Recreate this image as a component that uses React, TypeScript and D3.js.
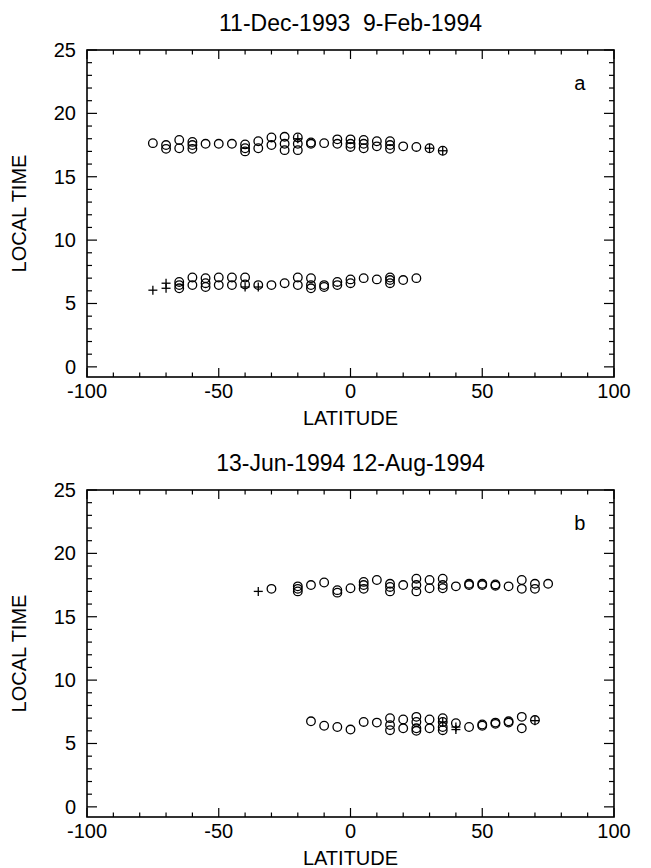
import React from "react";
import * as d3 from "d3";

// ---------- data ----------
const xTicks = [-100, -50, 0, 50, 100];
const yTicks = [0, 5, 10, 15, 20, 25];
const titles = ["11-Dec-1993  9-Feb-1994", "13-Jun-1994 12-Aug-1994"];
const panelLetters = ["a", "b"];
const xLabel = "LATITUDE";
const yLabel = "LOCAL TIME";

// Panel a (Dec-Feb): [latitude, local time]
const decDuskCircles: [number, number][] = [
  [-75, 17.65],
  [-70, 17.5], [-70, 17.2],
  [-65, 17.9], [-65, 17.25],
  [-60, 17.75], [-60, 17.5], [-60, 17.2],
  [-55, 17.6], [-50, 17.6], [-45, 17.6],
  [-40, 17.55], [-40, 17.25], [-40, 17.0],
  [-35, 17.8], [-35, 17.25],
  [-30, 18.1], [-30, 17.5],
  [-25, 18.15], [-25, 17.6], [-25, 17.1],
  [-20, 18.1], [-20, 17.6], [-20, 17.1],
  [-15, 17.7], [-15, 17.6],
  [-10, 17.65],
  [-5, 17.95], [-5, 17.6],
  [0, 17.95], [0, 17.6], [0, 17.35],
  [5, 17.9], [5, 17.6], [5, 17.25],
  [10, 17.8], [10, 17.4],
  [15, 17.8], [15, 17.5], [15, 17.2],
  [20, 17.4], [25, 17.35], [30, 17.25], [35, 17.05],
];
const decDawnCircles: [number, number][] = [
  [-65, 6.7], [-65, 6.45], [-65, 6.2],
  [-60, 7.05], [-60, 6.45],
  [-55, 7.0], [-55, 6.6], [-55, 6.3],
  [-50, 7.05], [-50, 6.45],
  [-45, 7.05], [-45, 6.45],
  [-40, 7.05], [-40, 6.5],
  [-35, 6.45], [-30, 6.45], [-25, 6.6],
  [-20, 7.05], [-20, 6.45],
  [-15, 7.0], [-15, 6.45], [-15, 6.2],
  [-10, 6.45], [-10, 6.3],
  [-5, 6.7], [-5, 6.45],
  [0, 6.9], [0, 6.6],
  [5, 7.0], [10, 6.9],
  [15, 7.05], [15, 6.85], [15, 6.6],
  [20, 6.85], [25, 7.0],
];
const decPluses: [number, number][] = [
  [-75, 6.05], [-70, 6.6], [-70, 6.2], [-40, 6.3], [-35, 6.3],
  [-20, 18.0], [30, 17.25], [35, 17.05],
];

// Panel b (Jun-Aug)
const junDuskCircles: [number, number][] = [
  [-30, 17.2],
  [-20, 17.4], [-20, 17.2], [-20, 17.0],
  [-15, 17.5], [-10, 17.7],
  [-5, 17.1], [-5, 16.9],
  [0, 17.25],
  [5, 17.75], [5, 17.5], [5, 17.2],
  [10, 17.9],
  [15, 17.6], [15, 17.35], [15, 17.0],
  [20, 17.5],
  [25, 18.0], [25, 17.5], [25, 17.0],
  [30, 17.9], [30, 17.25],
  [35, 18.0], [35, 17.5], [35, 17.25],
  [40, 17.4],
  [45, 17.6], [45, 17.5],
  [50, 17.6], [50, 17.5],
  [55, 17.55], [55, 17.45],
  [60, 17.4],
  [65, 17.9], [65, 17.2],
  [70, 17.6], [70, 17.2],
  [75, 17.6],
];
const junDawnCircles: [number, number][] = [
  [-15, 6.75], [-10, 6.4], [-5, 6.3], [0, 6.1],
  [5, 6.7], [10, 6.65],
  [15, 7.0], [15, 6.45], [15, 6.05],
  [20, 6.9], [20, 6.2],
  [25, 7.1], [25, 6.7], [25, 6.2], [25, 6.0],
  [30, 6.9], [30, 6.2],
  [35, 7.0], [35, 6.7], [35, 6.3], [35, 6.05],
  [40, 6.6],
  [45, 6.3], [50, 6.5], [50, 6.4],
  [55, 6.65], [55, 6.55],
  [60, 6.75], [60, 6.65],
  [65, 7.1], [65, 6.2],
  [70, 6.85],
];
const junPluses: [number, number][] = [
  [-35, 17.0], [35, 6.7], [40, 6.3], [40, 6.1], [70, 6.8],
];

const panels = [
  { circles: [...decDuskCircles, ...decDawnCircles], pluses: decPluses },
  { circles: [...junDuskCircles, ...junDawnCircles], pluses: junPluses },
];

// ---------- layout ----------
const W = 651;
const H = 868;
const left = 87;
const right = 614;
const panelTop = 50;
const panelBottom = 377;
const panelDy = 440;
const FONT = "'Liberation Sans', Arial, Helvetica, sans-serif";

function Panel({ idx }: { idx: number }) {
  const dy = idx * panelDy;
  const x = d3.scaleLinear().domain([-100, 100]).range([left, right]);
  const y = d3.scaleLinear().domain([-0.8, 25]).range([panelBottom + dy, panelTop + dy]);
  const top = panelTop + dy;
  const bottom = panelBottom + dy;
  const xMinor = d3.range(-100, 101, 10);
  const yMinor = d3.range(0, 26, 1);
  const p = panels[idx];
  const sw = 1.3;
  return (
    <g>
      <text
        x={(left + right) / 2}
        y={top - 19}
        fontSize={23}
        textAnchor="middle"
        fontFamily={FONT}
        style={{ whiteSpace: "pre" }}
      >
        {titles[idx]}
      </text>
      {xMinor.map((v) => {
        const major = v % 50 === 0;
        const len = major ? 9 : 4.5;
        return (
          <g key={"xt" + v}>
            <line x1={x(v)} x2={x(v)} y1={bottom} y2={bottom - len} stroke="#000" strokeWidth={1.2} />
            <line x1={x(v)} x2={x(v)} y1={top} y2={top + len} stroke="#000" strokeWidth={1.2} />
          </g>
        );
      })}
      {yMinor.map((v) => {
        const major = v % 5 === 0;
        const len = major ? 10 : 5;
        return (
          <g key={"yt" + v}>
            <line x1={left} x2={left + len} y1={y(v)} y2={y(v)} stroke="#000" strokeWidth={1.2} />
            <line x1={right} x2={right - len} y1={y(v)} y2={y(v)} stroke="#000" strokeWidth={1.2} />
          </g>
        );
      })}
      <rect x={left} y={top} width={right - left} height={bottom - top} fill="none" stroke="#000" strokeWidth={1.6} />
      {xTicks.map((v) => (
        <text key={"xl" + v} x={x(v)} y={bottom + 21} fontSize={20} textAnchor="middle" fontFamily={FONT}>
          {v}
        </text>
      ))}
      {yTicks.map((v) => (
        <text key={"yl" + v} x={left - 11} y={y(v) + 7} fontSize={20} textAnchor="end" fontFamily={FONT}>
          {v}
        </text>
      ))}
      <text x={(left + right) / 2} y={bottom + 48} fontSize={20} textAnchor="middle" fontFamily={FONT}>
        {xLabel}
      </text>
      <text
        transform={`translate(${26},${(top + bottom) / 2}) rotate(-90)`}
        fontSize={20}
        textAnchor="middle"
        fontFamily={FONT}
      >
        {yLabel}
      </text>
      <text x={x(87)} y={y(22.4) + 7} fontSize={20} textAnchor="middle" fontFamily={FONT}>
        {panelLetters[idx]}
      </text>
      {p.circles.map((d, i) => (
        <circle key={"c" + i} cx={x(d[0])} cy={y(d[1])} r={4.3} fill="none" stroke="#000" strokeWidth={sw} />
      ))}
      {p.pluses.map((d, i) => (
        <g key={"p" + i}>
          <line x1={x(d[0]) - 4.5} x2={x(d[0]) + 4.5} y1={y(d[1])} y2={y(d[1])} stroke="#000" strokeWidth={sw} />
          <line x1={x(d[0])} x2={x(d[0])} y1={y(d[1]) - 4.5} y2={y(d[1]) + 4.5} stroke="#000" strokeWidth={sw} />
        </g>
      ))}
    </g>
  );
}

export default function App() {
  return (
    <svg
      width={W}
      height={H}
      viewBox={`0 0 ${W} ${H}`}
      style={{ position: "absolute", left: 0, top: 0, background: "#fff" }}
    >
      <rect x={0} y={0} width={W} height={H} fill="#fff" />
      <Panel idx={0} />
      <Panel idx={1} />
    </svg>
  );
}
